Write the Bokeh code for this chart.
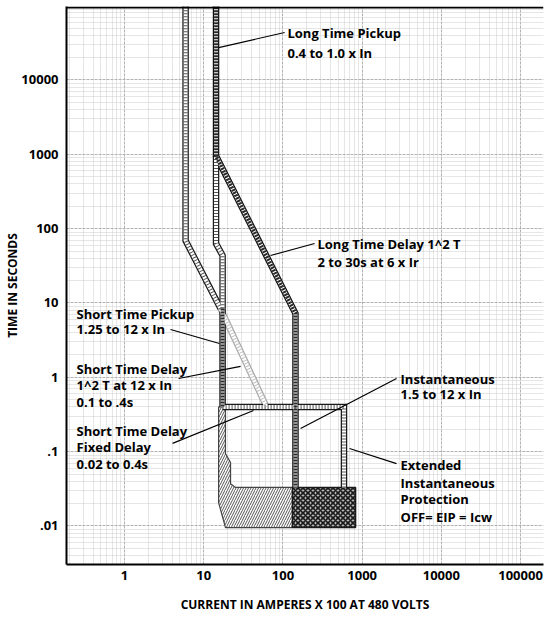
import math
from bokeh.plotting import figure
from bokeh.models import FixedTicker, Span
from bokeh.core.properties import value
from bokeh.embed import file_html
from bokeh.resources import INLINE

# ---- axis ticks ----
x_ticks = [1, 10, 100, 1000, 10000, 100000]
x_tick_labels = ["1", "10", "100", "1000", "10000", "100000"]
y_ticks = [0.01, 0.1, 1, 10, 100, 1000, 10000]
y_tick_labels = [".01", ".1", "1", "10", "100", "1000", "10000"]

# ---- trip curve bands (current x100 A, time s) ----
# long time pickup (max) + long time delay I^2T + instantaneous, cross-hatched
ltd_dark_i = [14.3, 14.3, 144, 144]
ltd_dark_t = [2e5, 950, 7.2, 0.033]
# long time pickup (min) with I^2T shoulder
ltp_min_i = [5.9, 5.9, 16.3]
ltp_min_t = [2e5, 69, 8.4]
# long time pickup (max) lower continuation
ltp_max_i = [14.3, 14.3, 17.3, 17.3]
ltp_max_t = [950, 63, 43.5, 8.4]
# short time pickup
stp_i = [17.3, 17.3]
stp_t = [8.4, 0.4]
# short time delay 0.4 s plateau + extended instantaneous
inst_i = [17.3, 590, 590]
inst_t = [0.4, 0.4, 0.033]
# short time delay I^2T ramp
std_i2t_i = [16.3, 62]
std_i2t_t = [8.4, 0.4]
# short time delay fixed region
fixed_i = [15.4, 15.4, 18.8, 132, 132, 25.2, 21.8, 21.8, 18.8, 18.8]
fixed_t = [0.4, 0.0207, 0.0095, 0.0095, 0.033, 0.033, 0.037, 0.0714, 0.094, 0.4]
# instantaneous / EIP clearing region
eip_i = [132, 132, 826, 826]
eip_t = [0.033, 0.0095, 0.0095, 0.033]

# ---- annotations ----
leader_i = [[15.4, 105], [69.7, 251], [3.81, 15.8], [4.81, 29.2], [4.04, 42.5], [2718, 167], [2718, 693]]
leader_t = [[27300, 43500], [43.5, 63.1], [4.40, 2.85], [0.963, 1.40], [0.129, 0.357], [0.963, 0.205], [0.069, 0.110]]
note_i = [114, 114, 273, 273, 0.248, 0.248, 0.248, 0.248, 0.248, 0.248, 0.248, 0.248,
          3055, 3055, 3055, 3055, 3055, 3055]
note_t = [42200, 23400, 61.2, 36.1, 7.21, 4.40, 1.313, 0.80, 0.472, 0.192, 0.114, 0.069,
          0.963, 0.587, 0.0651, 0.0384, 0.0227, 0.0130]
note_text = ["Long Time Pickup", "0.4 to 1.0 x In",
             "Long Time Delay 1^2 T", "2 to 30s at 6 x Ir",
             "Short Time Pickup", "1.25 to 12 x In",
             "Short Time Delay", "1^2 T at 12 x In", "0.1 to .4s",
             "Short Time Delay", "Fixed Delay", "0.02 to 0.4s",
             "Instantaneous", "1.5 to 12 x In",
             "Extended", "Instantaneous", "Protection", "OFF= EIP = Icw"]

FONT = value("Open Sans")
Y_TOP = 97400

p = figure(x_axis_type="log", y_axis_type="log",
           x_range=(0.185, 195000), y_range=(0.00303, Y_TOP),
           frame_width=477, frame_height=558,
           min_border_left=66, min_border_right=2, min_border_top=6, min_border_bottom=57,
           output_backend="svg", toolbar_location=None)
p.outline_line_color = None
p.background_fill_color = "white"

minor = [m * 10.0 ** e for e in range(-3, 6) for m in range(2, 10)]
xt = FixedTicker(ticks=x_ticks, minor_ticks=minor)
yt = FixedTicker(ticks=y_ticks, minor_ticks=minor)
p.xaxis.ticker = xt
p.yaxis.ticker = yt
p.xgrid.ticker = xt
p.ygrid.ticker = yt
p.xaxis.major_label_overrides = dict(zip(x_ticks, x_tick_labels))
p.yaxis.major_label_overrides = dict(zip(y_ticks, y_tick_labels))

for ax in (p.xaxis[0], p.yaxis[0]):
    ax.axis_line_color = "black"
    ax.axis_line_width = 2
    ax.major_tick_line_color = None
    ax.minor_tick_line_color = None
    ax.major_label_text_font = "Open Sans"
    ax.major_label_text_font_style = "bold"
    ax.major_label_text_font_size = "13px"
    ax.major_label_text_color = "black"
    ax.axis_label_text_font = "Open Sans"
    ax.axis_label_text_font_style = "bold"
    ax.axis_label_text_font_size = "12px"
    ax.axis_label_text_color = "black"
p.xaxis.major_label_standoff = 0
p.yaxis.major_label_standoff = 2
p.xaxis.axis_label = "CURRENT IN AMPERES X 100 AT 480 VOLTS"
p.xaxis.axis_label_standoff = 13
p.yaxis.axis_label = "TIME IN SECONDS"
p.yaxis.axis_label_standoff = -3

for g in (p.xgrid[0], p.ygrid[0]):
    g.grid_line_color = "#b2b2b2"
    g.grid_line_dash = "3 1"
    g.grid_line_width = 1
    g.minor_grid_line_color = "#cdcdcd"
    g.minor_grid_line_dash = "1 1"
    g.minor_grid_line_width = 1

p.add_layout(Span(location=94400, dimension="width", line_color="black", line_width=2))

# regions
p.patch(fixed_i, fixed_t, fill_color="white", hatch_pattern="/", hatch_color="#555",
        hatch_scale=5, hatch_weight=1, line_color="#444", line_width=1.2)
p.patch(eip_i, eip_t, fill_color="#b8b8b8", hatch_pattern="x", hatch_color="#1a1a1a",
        hatch_scale=5, hatch_weight=1.6, line_color="#1a1a1a", line_width=1.5)

bands = [
    (std_i2t_i, std_i2t_t, "faint"),
    (ltp_min_i, ltp_min_t, "light"),
    (ltp_max_i, ltp_max_t, "light"),
    (inst_i, inst_t, "light"),
    (ltd_dark_i, ltd_dark_t, "dark"),
    (stp_i, stp_t, "dark"),
]
styles = {
    "light": dict(edge="#1a1a1a", hatch="#555555", dash="1 2"),
    "dark": dict(edge="#111111", hatch="#2a2a2a", dash="2 1"),
    "faint": dict(edge="#a8a8a8", hatch="#c2c2c2", dash="1 2"),
}
for xs, ys, k in bands:
    p.line(xs, ys, line_width=6.5, line_color=styles[k]["edge"], line_join="miter")
for xs, ys, k in bands:
    p.line(xs, ys, line_width=4, line_color="white", line_join="miter")
for xs, ys, k in bands:
    p.line(xs, ys, line_width=4, line_color=styles[k]["hatch"], line_dash=styles[k]["dash"],
           line_join="miter")

p.multi_line(leader_i, leader_t, line_color="black", line_width=1.2)
p.text(note_i, note_t, text=note_text, text_font=FONT, text_font_style="bold",
       text_font_size="13px", text_baseline="middle", text_align="left", text_color="black")

open("out.html", "w").write(file_html(p, INLINE))
